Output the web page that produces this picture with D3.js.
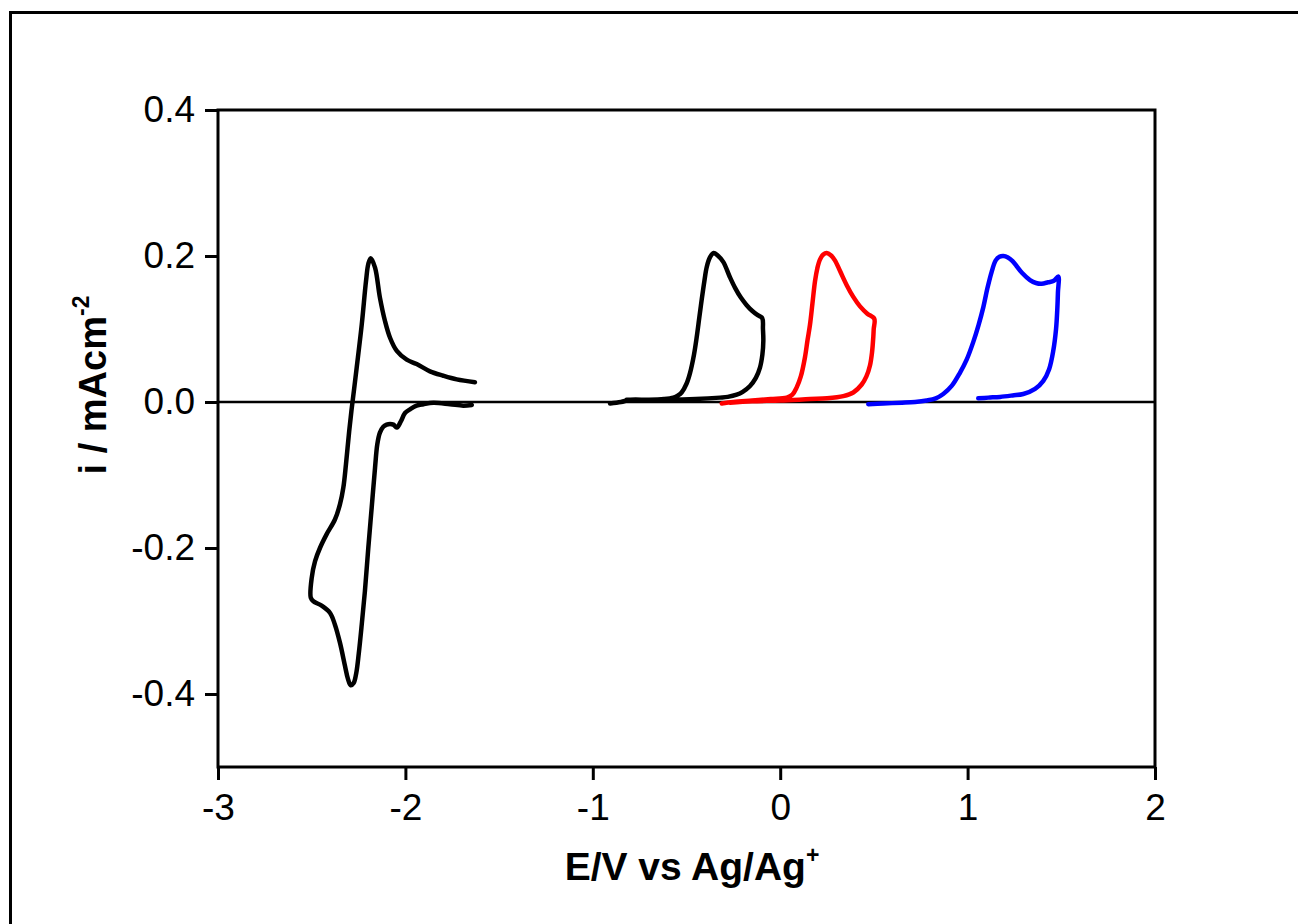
<!DOCTYPE html>
<html>
<head>
<meta charset="utf-8">
<script src="https://cdn.jsdelivr.net/npm/d3@7"></script>
<style>
  body { margin: 0; background: #fff; }
  svg { display: block; font-family: "Liberation Sans", Arial, sans-serif; }
</style>
</head>
<body>
<svg width="1298" height="924"></svg>
<script>
// tick values and labels
var xTicks = [-3, -2, -1, 0, 1, 2],
    yTicks = [-0.4, -0.2, 0, 0.2, 0.4],
    yTickLabels = ['-0.4', '-0.2', '0.0', '0.2', '0.4'];

// cyclic voltammograms, [E, i] in scan order
var cvLeft = [
  [-1.646,-0.004],[-1.691,-0.005],[-1.762,-0.003],[-1.851,-0.001],[-1.904,-0.003],[-1.940,-0.005],
  [-1.975,-0.010],[-2.002,-0.015],[-2.025,-0.027],[-2.046,-0.035],[-2.064,-0.031],[-2.082,-0.030],
  [-2.100,-0.031],[-2.118,-0.034],[-2.136,-0.042],[-2.150,-0.058],[-2.162,-0.090],[-2.180,-0.145],
  [-2.198,-0.200],[-2.216,-0.259],[-2.233,-0.305],[-2.249,-0.345],[-2.262,-0.371],[-2.276,-0.385],
  [-2.292,-0.388],[-2.307,-0.379],[-2.322,-0.362],[-2.349,-0.330],[-2.376,-0.305],[-2.402,-0.289],
  [-2.447,-0.279],[-2.491,-0.273],[-2.505,-0.268],[-2.500,-0.241],[-2.482,-0.218],[-2.456,-0.200],
  [-2.420,-0.181],[-2.376,-0.161],[-2.349,-0.140],[-2.331,-0.117],[-2.317,-0.085],[-2.300,-0.040],
  [-2.287,-0.010],[-2.275,0.015],[-2.260,0.047],[-2.233,0.106],[-2.210,0.166],[-2.198,0.189],
  [-2.185,0.197],[-2.162,0.184],[-2.136,0.143],[-2.109,0.111],[-2.082,0.088],[-2.046,0.070],
  [-1.993,0.058],[-1.940,0.052],[-1.869,0.042],[-1.798,0.036],[-1.726,0.031],[-1.629,0.027]
];

var cvMiddle = [
  [-0.908,-0.002],[-0.850,0.000],[-0.800,0.003],[-0.700,0.003],[-0.620,0.004],[-0.570,0.006],
  [-0.545,0.009],[-0.526,0.013],[-0.500,0.025],[-0.481,0.040],[-0.460,0.065],[-0.446,0.088],
  [-0.432,0.115],[-0.419,0.140],[-0.405,0.165],[-0.392,0.185],[-0.375,0.198],[-0.355,0.204],
  [-0.335,0.201],[-0.304,0.192],[-0.270,0.172],[-0.240,0.156],[-0.210,0.143],[-0.180,0.133],
  [-0.150,0.125],[-0.120,0.119],[-0.096,0.115],[-0.092,0.100],[-0.090,0.084],[-0.095,0.065],
  [-0.108,0.047],[-0.130,0.033],[-0.161,0.022],[-0.200,0.014],[-0.232,0.010],[-0.280,0.007],
  [-0.321,0.006],[-0.450,0.004],[-0.600,0.003],[-0.700,0.003],[-0.820,0.003]
];

var cvRed = [
  [-0.312,-0.002],[-0.250,0.000],[-0.150,0.002],[-0.050,0.004],[0.035,0.006],[0.065,0.010],
  [0.088,0.020],[0.110,0.035],[0.132,0.061],[0.146,0.085],[0.159,0.106],[0.172,0.135],
  [0.186,0.166],[0.198,0.183],[0.212,0.195],[0.230,0.202],[0.248,0.204],[0.270,0.201],
  [0.292,0.194],[0.320,0.179],[0.355,0.160],[0.390,0.144],[0.426,0.131],[0.465,0.121],
  [0.502,0.114],[0.499,0.100],[0.497,0.090],[0.490,0.068],[0.479,0.050],[0.460,0.035],
  [0.435,0.024],[0.390,0.013],[0.337,0.008],[0.250,0.005],[0.159,0.004],[0.000,0.002],
  [-0.150,0.001],[-0.268,-0.001]
];

var cvBlue = [
  [0.470,-0.003],[0.550,-0.002],[0.650,-0.001],[0.720,0.000],[0.781,0.002],[0.830,0.005],
  [0.870,0.011],[0.915,0.022],[0.959,0.040],[0.995,0.058],[1.030,0.082],[1.058,0.105],
  [1.084,0.130],[1.105,0.155],[1.128,0.178],[1.150,0.194],[1.170,0.199],[1.191,0.200],
  [1.215,0.198],[1.240,0.193],[1.262,0.186],[1.290,0.177],[1.333,0.167],[1.365,0.163],
  [1.395,0.162],[1.430,0.164],[1.460,0.166],[1.484,0.172],[1.482,0.150],[1.479,0.129],
  [1.472,0.100],[1.457,0.070],[1.435,0.045],[1.404,0.029],[1.360,0.018],[1.297,0.011],
  [1.240,0.009],[1.173,0.007],[1.110,0.006],[1.057,0.005]
];

var curves = [cvLeft, cvMiddle, cvRed, cvBlue],
    colours = ['#000000', '#000000', '#ff0000', '#0000ff'];

var svg = d3.select('svg'),
    plotLeft = 218,
    plotRight = 1155,
    plotTop = 110,
    plotBottom = 767;

var x = d3.scaleLinear().domain([-3, 2]).range([plotLeft, plotRight]),
    y = d3.scaleLinear().domain([-0.5, 0.4]).range([plotBottom, plotTop]);

// outer border (only top and left edges fall inside the picture)
svg.append('path')
    .attr('d', 'M10.5,1000 L10.5,12.5 L1400,12.5')
    .attr('fill', 'none')
    .attr('stroke', '#000')
    .attr('stroke-width', 3);

// zero line
svg.append('line')
    .attr('x1', x(-3)).attr('x2', x(2))
    .attr('y1', y(0)).attr('y2', y(0))
    .attr('stroke', '#000')
    .attr('stroke-width', 2.5);

var line = d3.line()
    .x(function(d) { return x(d[0]); })
    .y(function(d) { return y(d[1]); })
    .curve(d3.curveCatmullRom.alpha(0.5));

for (var i = 0; i < curves.length; i++) {
    svg.append('path')
        .attr('d', line(curves[i]))
        .attr('fill', 'none')
        .attr('stroke', colours[i])
        .attr('stroke-width', 4.5)
        .attr('stroke-linejoin', 'round')
        .attr('stroke-linecap', 'round');
}

// frame
svg.append('rect')
    .attr('x', plotLeft).attr('y', plotTop)
    .attr('width', plotRight - plotLeft).attr('height', plotBottom - plotTop)
    .attr('fill', 'none')
    .attr('stroke', '#000')
    .attr('stroke-width', 3);

var xAxis = svg.append('g')
    .attr('transform', 'translate(0,' + plotBottom + ')')
    .call(d3.axisBottom(x).tickValues(xTicks).tickSize(13).tickPadding(14)
        .tickFormat(function(d) { return String(d); }));

var yAxis = svg.append('g')
    .attr('transform', 'translate(' + plotLeft + ',0)')
    .call(d3.axisLeft(y).tickValues(yTicks).tickSize(13).tickPadding(10)
        .tickFormat(function(d, i) { return yTickLabels[i]; }));

[xAxis, yAxis].forEach(function(g) {
    g.select('.domain').remove();
    g.selectAll('.tick line').attr('stroke', '#000').attr('stroke-width', 3);
    g.selectAll('.tick text')
        .attr('fill', '#000')
        .style('font-family', '"Liberation Sans", Arial, sans-serif')
        .style('font-size', '37px');
});

// axis titles
var xTitle = svg.append('text')
    .attr('x', 692)
    .attr('y', 880)
    .attr('text-anchor', 'middle')
    .style('font-size', '39px')
    .style('font-weight', 'bold');
xTitle.append('tspan').text('E/V vs Ag/Ag');
xTitle.append('tspan').attr('dy', -17).style('font-size', '23px').text('+');

var yTitle = svg.append('text')
    .attr('transform', 'translate(106,385) rotate(-90)')
    .attr('text-anchor', 'middle')
    .style('font-size', '38px')
    .style('font-weight', 'bold');
yTitle.append('tspan').text('i / mAcm');
yTitle.append('tspan').attr('dy', -17).style('font-size', '23px').text('-2');
</script>
</body>
</html>
